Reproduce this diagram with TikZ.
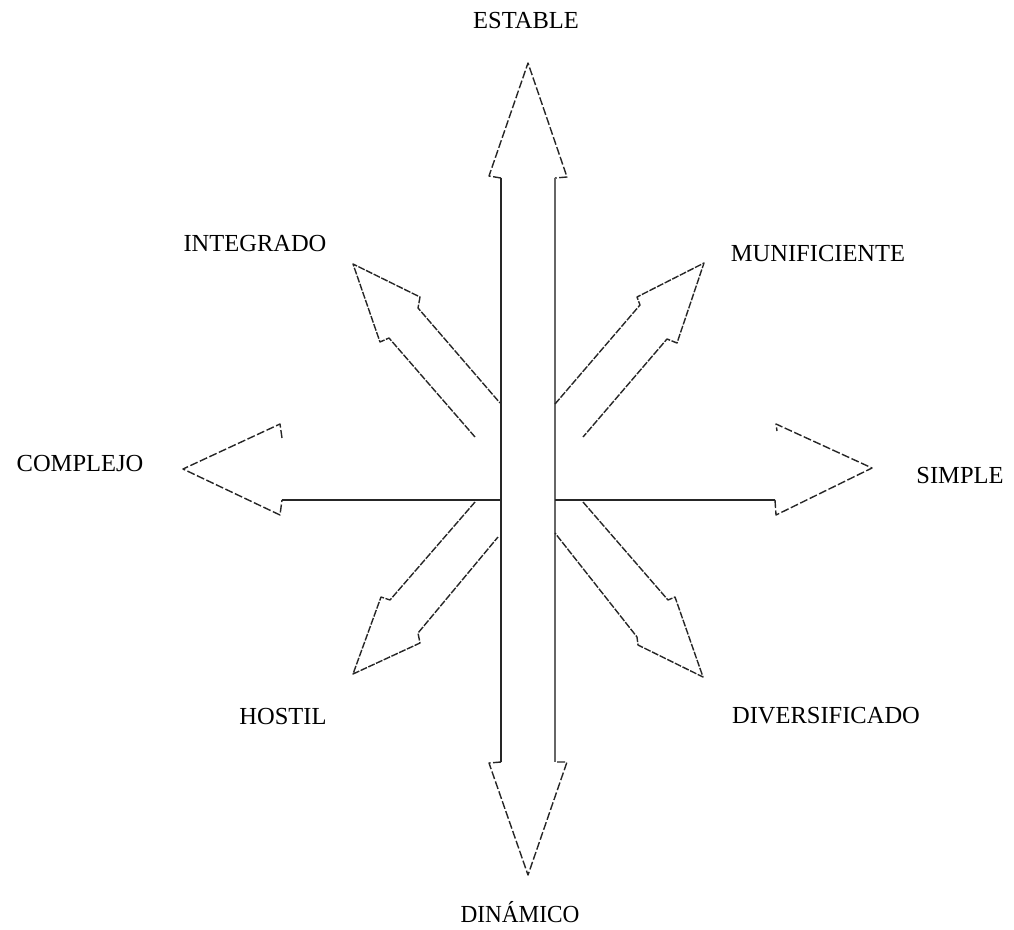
\documentclass[tikz,border=0pt]{standalone}
\usepackage{fontspec}
\setmainfont{Liberation Serif}
\begin{document}
\begin{tikzpicture}[x=1pt,y=-1pt,
  lbl/.style={inner sep=0pt,font=\fontsize{24.5}{29}\selectfont,text=black},
  headline/.style={draw=black!85,line width=1.4pt,dash pattern=on 8pt off 2.5pt,line join=round},
  diagline/.style={draw=black!85,line width=1.4pt,dash pattern=on 7pt off 1.5pt,line join=round},
  shaftline/.style={draw=black!85,line width=1.5pt}]
\useasboundingbox (0,0) rectangle (1014,929);
% vertical double arrow
\coordinate (vTL) at (501,178); \coordinate (vTR) at (555,178);
\coordinate (vBL) at (501,762); \coordinate (vBR) at (555,762);
\draw[headline] (vTL) -- (489,176) -- (528,63) -- (567,177) -- (vTR);
\draw[shaftline] (vTL) -- (vBL);
\draw[shaftline,draw=black!60] (vTR) -- (vBR);
\draw[headline] (vBL) -- (489,763) -- (528,875) -- (567,762) -- (vBR);
% horizontal
\coordinate (hL) at (282,500); \coordinate (hR) at (775,500);
\coordinate (cL) at (501,500); \coordinate (cR) at (555,500);
\draw[headline] (282,438) -- (280,424) -- (183,469) -- (280,515) -- (hL);
\draw[shaftline] (hL) -- (cL);
\draw[shaftline] (cR) -- (hR);
\draw[headline] (hR) -- (776,515) -- (872,468) -- (776,424) -- (777,431);
% diagonals
\draw[diagline] (475,437) -- (389,338) -- (380,342) -- (353,264) -- (420,297) -- (418,308) -- (500,403);
\draw[diagline] (555,404) -- (640,305) -- (637,297) -- (704,263) -- (677,343) -- (667,339) -- (583,437);
\draw[diagline] (475,502) -- (390,600) -- (381,597) -- (353,674) -- (420,643) -- (418,633) -- (498,537);
\draw[diagline] (583,502) -- (668,600) -- (675,597) -- (703,677) -- (638,645) -- (637,637) -- (555,533);
% labels
\node[lbl] (estable) at (526,21) {ESTABLE};
\node[lbl] (integrado) at (255,244) {INTEGRADO};
\node[lbl] (munif) at (818,254) {MUNIFICIENTE};
\node[lbl] (complejo) at (80,464) {COMPLEJO};
\node[lbl] (simple) at (960,476) {SIMPLE};
\node[lbl] (hostil) at (283,716) {HOSTIL};
\node[lbl] (divers) at (826,716) {DIVERSIFICADO};
\node[lbl,xscale=0.95] (dinamico) at (520,912) {DINÁMICO};
\end{tikzpicture}
\end{document}
